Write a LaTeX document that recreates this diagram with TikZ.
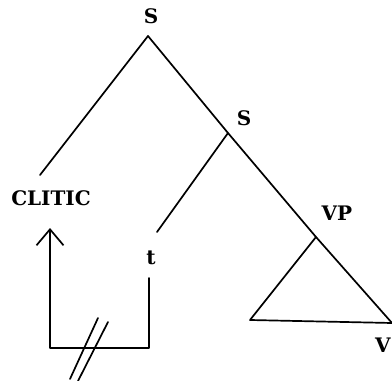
\documentclass[tikz,border=0pt]{standalone}
\usepackage{fontspec}
\setmainfont{DejaVu Serif}
\usetikzlibrary{arrows.meta}
\begin{document}
\begin{tikzpicture}[x=1pt,y=-1pt,
  lbl/.style={font=\fontsize{20}{20}\selectfont\bfseries, inner sep=0pt},
  edge/.style={line width=1.7pt, line cap=round, line join=round}]
\useasboundingbox (0,0) rectangle (392,381);
% labels
\node[lbl] (S1) at (151,16) {S};
\node[lbl] (S2) at (244,118) {S};
\node[lbl] (clitic) at (51,198) {CLITIC};
\node[lbl] (t) at (151,258) {t};
\node[lbl] (VP) at (337,213) {VP};
\node[lbl] (V) at (383,345) {V};
% branch points
\coordinate (a1) at (148,36);
\coordinate (a2) at (228,133);
\coordinate (cl) at (40,175);
\coordinate (tt) at (157,232);
\coordinate (vp) at (316,237);
\coordinate (bl) at (250,320);
\coordinate (br) at (392,323);
\coordinate (up) at (50,228);
\coordinate (c1) at (50,348);
\coordinate (c2) at (149,348);
\coordinate (c3) at (149,278);
% tree
\draw[edge] (a1) -- (cl);
\draw[edge] (a1) -- (a2) -- (vp) -- (br);
\draw[edge] (a2) -- (tt);
\draw[edge] (vp) -- (bl) -- (br);
% movement arrow
\draw[edge,-{Straight Barb[length=16pt,width=27pt,line width=1.7pt]}] (c3) -- (c2) -- (c1) -- (up);
% double slash
\draw[edge] (70,379) -- (98,318);
\draw[edge] (78,381) -- (108,322);
\end{tikzpicture}
\end{document}
